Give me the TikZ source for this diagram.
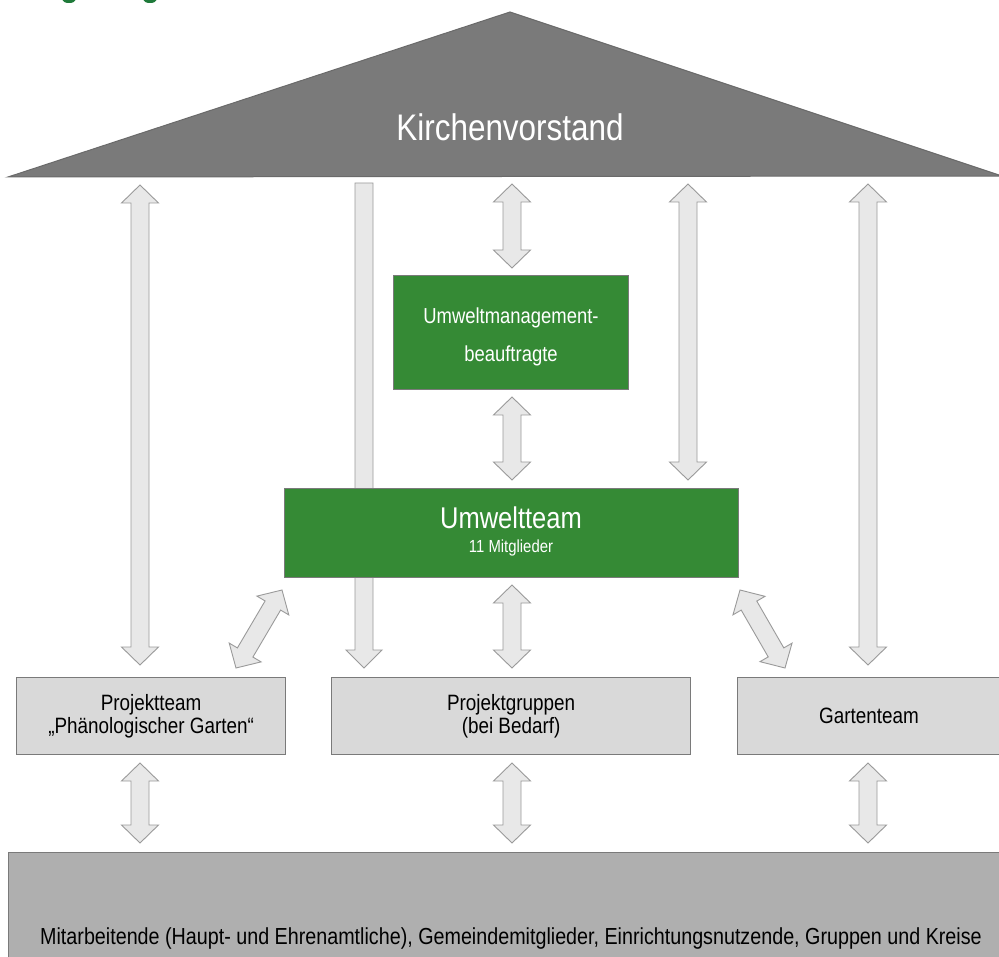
\documentclass[tikz,border=0pt]{standalone}
\usepackage{fontspec}
\setmainfont{Liberation Sans}[FakeStretch=0.85]
\usetikzlibrary{calc}
\definecolor{roofgray}{HTML}{7A7A7A}
\definecolor{roofline}{HTML}{6A6A6A}
\definecolor{ugreen}{HTML}{358A35}
\definecolor{boxline}{HTML}{7A7A7A}
\definecolor{lightbox}{HTML}{D9D9D9}
\definecolor{basebox}{HTML}{AFAFAF}
\definecolor{arrowfill}{HTML}{E8E8E8}
\definecolor{arrowline}{HTML}{9A9A9A}
\definecolor{fraggreen}{HTML}{1F7A3A}
\tikzset{
  bigarrow/.style={fill=arrowfill,draw=arrowline,line width=0.9pt,line join=miter},
  greenbox/.style={draw=boxline,fill=ugreen,line width=1.2pt,text=white,anchor=north west,inner sep=0pt,align=center},
  graybox/.style={draw=boxline,fill=lightbox,line width=1.2pt,anchor=north west,inner sep=0pt,align=center,font=\fontsize{22.2}{23.5}\selectfont},
}
% double arrow between two named coordinates
\newcommand\dblarrow[2]{%
  \draw[bigarrow] (#1)
    -- ($(#1)!18pt!(#2)!18.5pt!90:(#2)$)
    -- ($(#1)!18pt!(#2)!9pt!90:(#2)$)
    -- ($(#2)!18pt!(#1)!9pt!-90:(#1)$)
    -- ($(#2)!18pt!(#1)!18.5pt!-90:(#1)$)
    -- (#2)
    -- ($(#2)!18pt!(#1)!18.5pt!90:(#1)$)
    -- ($(#2)!18pt!(#1)!9pt!90:(#1)$)
    -- ($(#1)!18pt!(#2)!9pt!-90:(#2)$)
    -- ($(#1)!18pt!(#2)!18.5pt!-90:(#2)$)
    -- cycle;}
% single arrow from first to second coordinate
\newcommand\sglarrow[2]{%
  \draw[bigarrow] ($(#1)!9pt!90:(#2)$)
    -- ($(#2)!18pt!(#1)!9pt!-90:(#1)$)
    -- ($(#2)!18pt!(#1)!18pt!-90:(#1)$)
    -- (#2)
    -- ($(#2)!18pt!(#1)!18pt!90:(#1)$)
    -- ($(#2)!18pt!(#1)!9pt!90:(#1)$)
    -- ($(#1)!9pt!-90:(#2)$)
    -- cycle;}
\begin{document}
\begin{tikzpicture}[x=1pt,y=-1pt]
\useasboundingbox (0,0) rectangle (999,957);
\fill[white] (0,0) rectangle (999,957);

% cut-off green fragments at top edge
\fill[fraggreen] (62.5,0) arc[start angle=180,end angle=0,x radius=6.5,y radius=3] -- cycle;
\fill[fraggreen] (143.5,0) arc[start angle=180,end angle=0,x radius=6.5,y radius=3] -- cycle;

% roof
\draw[fill=roofgray,draw=roofline,line width=1pt,line join=miter] (8,177) -- (510,12) -- (1002,176) -- cycle;
\node[text=white,font=\fontsize{37}{40}\selectfont] (kv) at (510,127) {Kirchenvorstand};

% arrow end points
\coordinate (a1s) at (140,185);  \coordinate (a1e) at (140,665);
\coordinate (a2s) at (364,183);  \coordinate (a2e) at (364,668);
\coordinate (a3s) at (512,184);  \coordinate (a3e) at (512,268);
\coordinate (a4s) at (688,184);  \coordinate (a4e) at (688,480);
\coordinate (a5s) at (868,184);  \coordinate (a5e) at (868,665);
\coordinate (a6s) at (512,397);  \coordinate (a6e) at (512,480);
\coordinate (a7s) at (512,585);  \coordinate (a7e) at (512,668);
\coordinate (a8s) at (282,590);  \coordinate (a8e) at (236,668);
\coordinate (a9s) at (740,590);  \coordinate (a9e) at (785,668);
\coordinate (b1s) at (140,763);  \coordinate (b1e) at (140,843);
\coordinate (b2s) at (512,763);  \coordinate (b2e) at (512,843);
\coordinate (b3s) at (868,763);  \coordinate (b3e) at (868,843);

\dblarrow{a1s}{a1e}
\sglarrow{a2s}{a2e}
\dblarrow{a3s}{a3e}
\dblarrow{a4s}{a4e}
\dblarrow{a5s}{a5e}
\dblarrow{a6s}{a6e}
\dblarrow{a7s}{a7e}
\dblarrow{a8s}{a8e}
\dblarrow{a9s}{a9e}
\dblarrow{b1s}{b1e}
\dblarrow{b2s}{b2e}
\dblarrow{b3s}{b3e}

% boxes
\node[greenbox,minimum width=235pt,minimum height=114pt] (umb) at (393,275) {};
\node[text=white,align=center,font=\fontsize{21.7}{38}\selectfont] (umbtext) at (511,337) {Umweltmanagement-\\beauftragte};

\node[greenbox,minimum width=454pt,minimum height=89pt] (ut) at (284,488) {};
\node[text=white,font=\fontsize{30}{32}\selectfont] (uttitle) at (511,518) {Umweltteam};
\node[text=white,font=\fontsize{17.5}{20}\selectfont] (utsub) at (511,548) {11 Mitglieder};

\node[graybox,minimum width=269pt,minimum height=77pt] (pt) at (16,677) {Projektteam\\„Phänologischer Garten“};
\node[graybox,minimum width=359pt,minimum height=77pt] (pg) at (331,677) {Projektgruppen\\(bei Bedarf)};
\node[graybox,minimum width=275pt,minimum height=77pt] (gt) at (737,677) {};
\node[font=\fontsize{22.2}{23.5}\selectfont] (gttext) at (869,716) {Gartenteam};

\node[draw=boxline,fill=basebox,line width=1.2pt,anchor=north west,inner sep=0pt,minimum width=1010pt,minimum height=120pt] (base) at (8,852) {};
\node[font=\fontsize{23.2}{25}\selectfont] (basetext) at (511,938) {Mitarbeitende (Haupt- und Ehrenamtliche), Gemeindemitglieder, Einrichtungsnutzende, Gruppen und Kreise};
\end{tikzpicture}
\end{document}
